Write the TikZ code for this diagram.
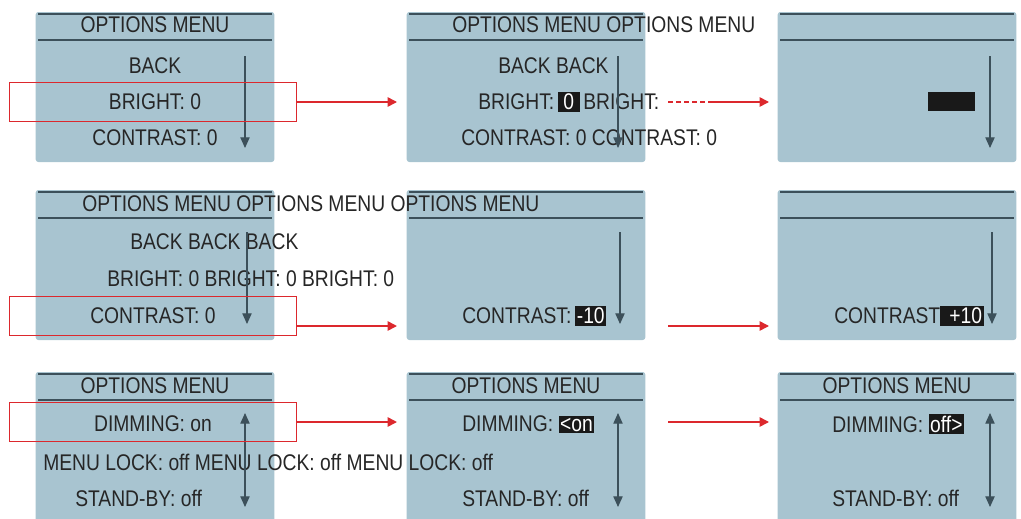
\documentclass[tikz,border=0pt]{standalone}
\usepackage{fontspec}
\setmainfont{Liberation Sans}[FakeStretch=0.85]
\usetikzlibrary{arrows.meta}
\definecolor{lcd}{RGB}{168,196,208}
\definecolor{lcdline}{RGB}{60,80,90}
\definecolor{selred}{RGB}{220,40,45}
\begin{document}
\begin{tikzpicture}[x=0.75pt,y=-0.75pt,
  every node/.style={font=\fontsize{17}{19}\selectfont, text=black!85, inner sep=0pt},
  panel/.style={fill=lcd, rounded corners=2pt, minimum width=179pt, minimum height=112.5pt},
  hl/.style={fill=black!90, text=white, inner sep=1.2pt},
  sel/.style={draw=selred, line width=1pt, minimum width=215pt, minimum height=29pt},
  go/.style={draw=selred, line width=1.2pt, -{Triangle[length=7pt,width=7pt]}},
  scroll/.style={draw=lcdline, line width=0.8pt, -{Triangle[length=8pt,width=7pt]}},
  rule/.style={draw=lcdline, line width=1.1pt}]
\useasboundingbox (0,0) rectangle (1021,518);
% panels
\foreach \c/\x in {1/155,2/526,3/897}
  \foreach \r/\y in {1/87,2/265,3/447}
    \node[panel] (p\r\c) at (\x,\y) {};
\foreach \r/\t in {1/14,2/192,3/374}
  \foreach \c in {1,2,3}{
    \draw[rule] ([xshift=2pt]p\r\c.west |- 0,\t) -- ([xshift=-2pt]p\r\c.east |- 0,\t);
    \draw[rule] ([xshift=2pt]p\r\c.west |- 0,\t+26) -- ([xshift=-2pt]p\r\c.east |- 0,\t+26);
  }
% row 1
\node (t11) at (155,25) {OPTIONS MENU};
\node (b11) at (155,66) {BACK};
\node (g11) at (155,102) {BRIGHT: 0};
\node (c11) at (155,138) {CONTRAST: 0};
\node[anchor=west] (t12) at (452,25) {OPTIONS MENU OPTIONS MENU};
\node[anchor=west] (b12) at (498,66) {BACK BACK};
\node[anchor=west] (g12) at (478,102) {BRIGHT:\,\tikz[baseline]\node[hl,anchor=base]{\,0\,};\,BRIGHT:};
\node[anchor=west] (c12) at (461,138) {CONTRAST: 0 CONTRAST: 0};
\fill[black!90] (928,92) rectangle (975,111);
\path[scroll] (245,56) -- (245,148);
\path[scroll] (618,56) -- (618,148);
\path[scroll] (990,56) -- (990,148);
\node[sel] (s1) at (153,102) {};
\coordinate (e1) at (397,102);
\path[go] (s1.east) -- (e1);
\draw[selred, line width=1.2pt, dash pattern=on 4pt off 2pt] (668,102) -- (710,102);
\coordinate (f1) at (710,102);
\coordinate (e2) at (769,102);
\path[go] (f1) -- (e2);
% row 2
\node[anchor=west] (t21) at (82,204) {OPTIONS MENU OPTIONS MENU OPTIONS MENU};
\node[anchor=west] (b21) at (130,242) {BACK BACK BACK};
\node[anchor=west] (g21) at (107,279) {BRIGHT: 0 BRIGHT: 0 BRIGHT: 0};
\node[anchor=west] (c21) at (90,316) {CONTRAST: 0};
\node[anchor=west] (c22) at (462,316) {CONTRAST:\,\tikz[baseline]\node[hl,anchor=base]{-10};};
\node[anchor=west] (c23) at (834,316) {CONTRAST\tikz[baseline]\node[hl,anchor=base]{\,\,+10};};
\path[scroll] (247,232) -- (247,324);
\path[scroll] (620,232) -- (620,324);
\path[scroll] (992,232) -- (992,324);
\node[sel] (s2) at (153,316) {};
\coordinate (e3) at (397,326);
\path[go] (s2.east |- e3) -- (e3);
\coordinate (f3) at (668,326);
\coordinate (e4) at (769,326);
\path[go] (f3) -- (e4);
% row 3
\foreach \c/\x in {1/155,2/526,3/897}
  \node (t3\c) at (\x,386) {OPTIONS MENU};
\node (d31) at (153,424) {DIMMING: on};
\node[anchor=west] (d32) at (462,424) {DIMMING: \tikz[baseline]\node[hl,anchor=base]{<on};};
\node[anchor=west] (d33) at (832,424) {DIMMING: \tikz[baseline]\node[hl,anchor=base]{off>};};
\node[anchor=west] (m31) at (43,462) {MENU LOCK: off MENU LOCK: off MENU LOCK: off};
\node[anchor=west] (y31) at (75,498) {STAND-BY: off};
\node[anchor=west] (y32) at (462,498) {STAND-BY: off};
\node[anchor=west] (y33) at (832,498) {STAND-BY: off};
\foreach \x in {245,618,990}
  \path[scroll, {Triangle[length=8pt,width=7pt]}-{Triangle[length=8pt,width=7pt]}] (\x,413) -- (\x,507);
\node[sel] (s3) at (153,422) {};
\coordinate (e5) at (397,422);
\path[go] (s3.east) -- (e5);
\coordinate (f5) at (668,422);
\coordinate (e6) at (769,422);
\path[go] (f5) -- (e6);
\end{tikzpicture}
\end{document}
